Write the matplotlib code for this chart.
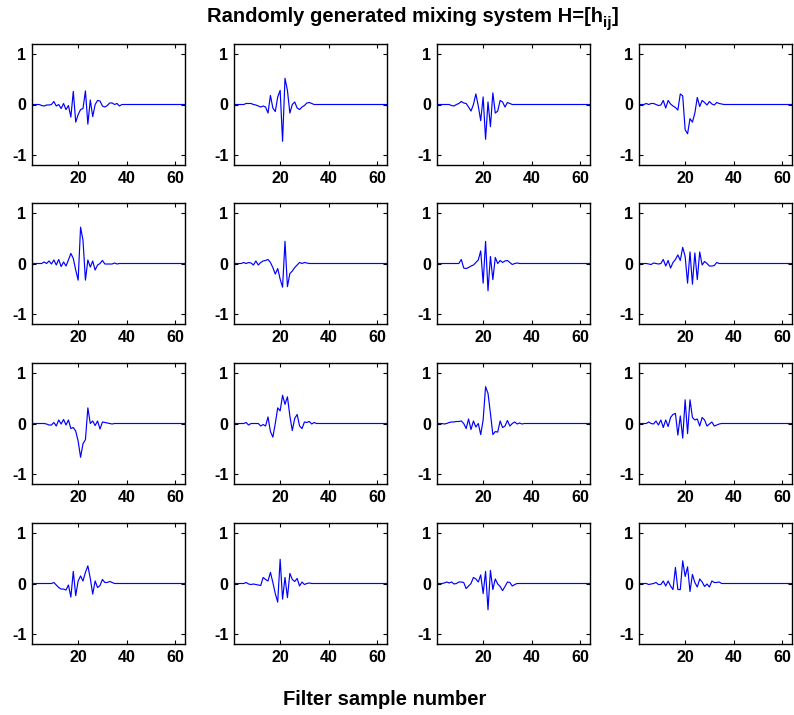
import numpy as np
import matplotlib
matplotlib.use("Agg")
import matplotlib.pyplot as plt

plt.rcParams['font.family'] = ['Liberation Sans', 'DejaVu Sans']
plt.rcParams['font.weight'] = 'bold'
plt.rcParams['axes.unicode_minus'] = False
plt.rcParams['mathtext.fontset'] = 'custom'
plt.rcParams['mathtext.rm'] = 'Liberation Sans:bold'
plt.rcParams['mathtext.it'] = 'Liberation Sans:bold'
plt.rcParams['mathtext.bf'] = 'Liberation Sans:bold'

N_TAPS = 64
samples = np.arange(1, N_TAPS + 1)

# filter taps h_ij (leading taps; remaining taps are zero)
h11 = [0, 0, 0, 0, -0.02, -0.03, -0.01, -0.01, 0.0, 0.06, -0.03, 0.0, -0.08, 0.02, -0.1, -0.02,
       -0.25, 0.26, -0.35, -0.2, -0.1, -0.08, 0.27, -0.39, 0.09, -0.24, 0.0, 0.08, 0.07, -0.03,
       -0.05, -0.02, 0.03, 0.03, 0.0, 0.02, -0.03, 0.0]
h12 = [0, 0, 0, 0, 0.0, 0.02, 0.02, 0.02, 0.0, -0.01, -0.03, -0.05, -0.03, -0.05, -0.17, 0.18,
       -0.07, -0.14, 0.15, 0.28, -0.73, 0.52, 0.28, -0.17, 0.0, 0.05, -0.07, -0.1, -0.05, -0.02,
       0.03, 0.04, 0.02, 0.0]
h13 = [0, 0, 0, 0, 0, 0, -0.02, -0.03, 0.0, 0.02, 0.06, 0.03, 0.02, -0.05, -0.13, 0.0, 0.21,
       -0.03, -0.32, 0.15, -0.69, 0.05, -0.44, 0.23, -0.17, -0.13, 0.08, 0.05, -0.05, 0.04, 0.02, 0.0]
h14 = [0, 0, 0, 0.02, 0.0, 0.02, 0.02, 0.0, -0.02, -0.01, 0.08, -0.07, 0.08, 0.01, -0.03, -0.06,
       -0.11, 0.21, 0.17, -0.5, -0.58, -0.28, -0.35, -0.17, 0.14, -0.04, 0.08, 0.04, -0.01, 0.06,
       0.01, -0.01, 0.04, 0.02, 0.01]
h21 = [0, 0, 0, 0, 0, 0.03, 0.0, 0.05, -0.01, 0.07, -0.03, 0.08, -0.06, 0.03, -0.05, 0.07, 0.2,
       0.1, -0.13, -0.33, 0.72, 0.46, -0.33, 0.07, -0.07, 0.05, -0.13, -0.03, 0.0, 0.06, -0.01,
       -0.01, -0.01, -0.01, 0.01, -0.01, 0.0]
h22 = [0, 0, 0, 0, 0.02, 0.0, 0.02, 0.01, -0.03, 0.05, -0.03, 0.02, 0.05, 0.06, 0.08, 0.02,
       -0.08, -0.21, -0.1, -0.31, -0.47, 0.44, -0.46, -0.2, -0.15, -0.08, -0.03, 0.02, 0.0, 0.02, 0.01]
h23 = [0, 0, 0, 0, 0, 0, 0, 0, 0, 0.0, 0.08, -0.09, -0.1, -0.08, -0.05, -0.03, 0.02, 0.07, 0.25,
       -0.39, 0.44, -0.54, 0.14, -0.32, 0.12, 0.0, 0.06, 0.02, 0.05, 0.06, 0.02, -0.02, 0.0, 0.01]
h24 = [0, 0, 0, 0, -0.01, -0.02, 0.01, 0.0, -0.01, 0.0, 0.08, -0.05, 0.06, -0.09, 0.02, 0.08,
       0.17, 0.06, 0.32, 0.14, -0.39, 0.23, -0.41, 0.21, -0.32, 0.23, -0.03, 0.04, 0.0, -0.05,
       -0.05, -0.04, 0.02, 0.0]
h31 = [0, 0, 0, 0, 0, 0, -0.01, -0.03, -0.03, 0.02, -0.05, 0.07, -0.01, 0.08, -0.03, 0.07, -0.1,
       -0.08, -0.15, -0.35, -0.67, -0.4, -0.32, 0.31, 0.0, 0.05, -0.04, 0.05, -0.11, 0.03, 0.02,
       0.01, 0.0, -0.01]
h32 = [0, 0, 0, 0, 0, 0.02, -0.03, 0.0, 0.0, 0.0, 0.0, -0.05, -0.02, -0.05, 0.13, -0.16, -0.27,
       0.0, 0.31, 0.25, 0.56, 0.38, 0.53, 0.15, -0.14, 0.1, 0.18, -0.05, -0.1, 0.03, 0.02, 0.04,
       -0.01, 0.02, 0.0]
h33 = [0, 0, 0, -0.01, 0.0, 0.02, 0.03, 0.03, 0.04, 0.04, 0.05, 0.0, -0.1, 0.09, -0.12, 0.05,
       -0.07, 0.0, -0.22, 0.07, 0.73, 0.6, 0.2, -0.22, -0.16, -0.17, 0.05, -0.08, -0.05, 0.06,
       -0.05, 0.0, 0.03, -0.01, 0.01, -0.01, 0.0]
h34 = [0, 0, 0, 0.0, 0.03, 0.0, -0.01, 0.05, -0.03, 0.07, -0.08, 0.07, -0.06, 0.12, 0.18, 0.2,
       -0.23, 0.15, -0.29, 0.47, -0.2, 0.47, 0.12, 0.07, 0.09, -0.05, 0.12, 0.07, -0.05, -0.01,
       0.03, -0.05, -0.03, -0.01, 0.0]
h41 = [0, 0, 0, 0, 0, 0, 0, 0, 0, 0.02, -0.03, -0.08, -0.11, -0.11, -0.13, -0.03, -0.27, 0.24,
       -0.24, 0.05, 0.15, 0.05, 0.22, 0.35, 0.1, -0.21, 0.05, -0.08, -0.04, 0.08, 0.02, 0.02, 0.04,
       0.02, 0.0]
h42 = [0, 0, 0, 0, 0, 0.02, -0.01, -0.02, -0.01, -0.02, -0.03, -0.04, 0.12, 0.08, 0.05, 0.22,
       0.02, -0.2, -0.37, 0.48, -0.31, 0.12, -0.28, 0.2, 0.08, 0.04, 0.1, -0.05, 0.03, -0.02, 0.0,
       0.01, 0.0]
h43 = [0, 0, 0, 0.01, 0.03, 0.01, 0.03, -0.01, 0.0, 0.03, 0.03, 0.02, -0.1, -0.05, 0.0, 0.12,
       0.09, 0.03, 0.17, -0.2, 0.24, -0.52, 0.26, -0.12, 0.09, -0.01, -0.06, -0.14, -0.06, 0.03,
       0.02, -0.05, -0.02, 0.0]
h44 = [0, 0, 0, 0, -0.02, -0.01, 0.0, 0.02, -0.02, -0.02, 0.05, -0.05, 0.05, -0.05, -0.12, 0.32,
       -0.12, -0.12, 0.45, 0.14, 0.33, -0.16, 0.18, 0.02, -0.07, 0.09, 0.03, -0.06, -0.01, -0.07,
       0.05, 0.02, 0.02, 0.03, 0.0]

H = [[h11, h12, h13, h14],
     [h21, h22, h23, h24],
     [h31, h32, h33, h34],
     [h41, h42, h43, h44]]

x_ticks = [20, 40, 60]
y_ticks = [-1, 0, 1]
title_main = 'Randomly generated mixing system H=[h'
title_sub = 'ij'
title_end = ']'
xlabel_text = 'Filter sample number'


def full_taps(h):
    out = np.zeros(N_TAPS)
    out[:len(h)] = h
    return out


W, Hh = 794, 715
fig = plt.figure(figsize=(W / 100, Hh / 100), dpi=100)

col_left = [32, 234, 437, 639]
row_top = [44, 203, 363, 523]
ax_w, ax_h = 153, 121

for i in range(4):
    for j in range(4):
        l = col_left[j] / W
        b = 1 - (row_top[i] + ax_h) / Hh
        ax = fig.add_axes([l, b, ax_w / W, ax_h / Hh])
        ax.plot(samples, full_taps(H[i][j]), color='#0000ff', lw=0.85)
        ax.set_xlim(1, 64)
        ax.set_ylim(-1.2, 1.2)
        ax.set_xticks(x_ticks)
        ax.set_yticks(y_ticks)
        ax.tick_params(direction='in', length=3, width=0.8, top=True, right=True,
                       labelsize=11.5, pad=4, colors='black')
        for lab in ax.get_xticklabels() + ax.get_yticklabels():
            lab.set_fontweight('bold')
        for s in ax.spines.values():
            s.set_linewidth(1.0)

# title built from text pieces (subscript drawn smaller and lower)
fig.canvas.draw()
renderer = fig.canvas.get_renderer()
fs_title = 14.5
t1 = fig.text(0, 0, title_main, fontsize=fs_title, fontweight='bold')
t2 = fig.text(0, 0, title_sub, fontsize=fs_title * 0.75, fontweight='bold')
t3 = fig.text(0, 0, title_end, fontsize=fs_title, fontweight='bold')
w1 = t1.get_window_extent(renderer).width
w2 = t2.get_window_extent(renderer).width
w3 = t3.get_window_extent(renderer).width
total = w1 + w2 + w3
cx = 0.5195 * W
y_base = Hh - 22
x0 = cx - total / 2
t1.set_position((x0 / W, y_base / Hh))
t2.set_position(((x0 + w1) / W, (y_base - 5) / Hh))
t3.set_position(((x0 + w1 + w2) / W, y_base / Hh))

fig.text(0.484, 0.021, xlabel_text, ha='center', va='center', fontsize=14.5, fontweight='bold')

fig.savefig('out.png', dpi=100)
